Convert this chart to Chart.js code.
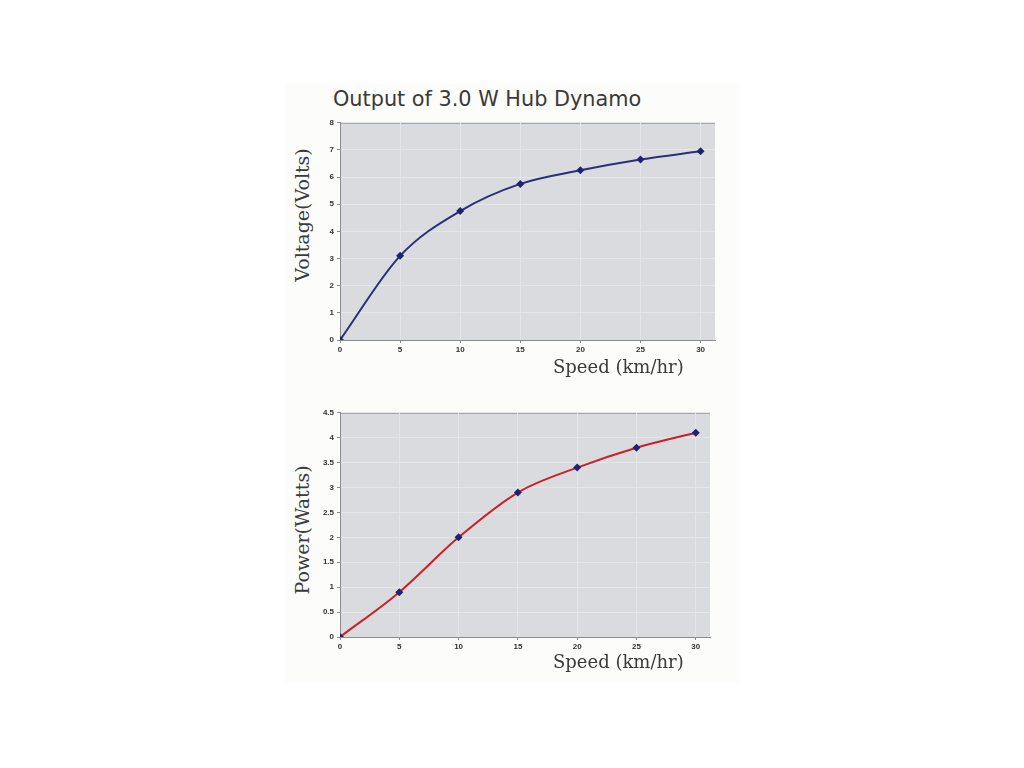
<!DOCTYPE html>
<html>
<head>
<meta charset="utf-8">
<script src="https://cdn.jsdelivr.net/npm/chart.js@4/dist/chart.umd.min.js"></script>
<style>
  body { margin: 0; background: #fff; width: 1024px; height: 768px; position: relative; overflow: hidden; }
  .panel { position: absolute; left: 285px; top: 84px; width: 455px; height: 598px; background: #fcfcfb; }
  .title { position: absolute; left: 333px; top: 87px; font: 20.8px "DejaVu Sans", sans-serif; color: #3a3a3a; }
  .xtitle { position: absolute; font: 18px "DejaVu Serif", serif; color: #3a3a3a; }
  .ytitle { position: absolute; font: 19px "DejaVu Serif", serif; color: #3a3a3a; white-space: nowrap;
            transform: translate(-50%, -50%) rotate(-90deg); }
  canvas { position: absolute; }
</style>
</head>
<body>
<div class="panel"></div>
<div class="title">Output of 3.0 W Hub Dynamo</div>
<div class="ytitle" style="left:302px; top:215px;">Voltage(Volts)</div>
<canvas id="voltChart" style="left:285px; top:115px; width:435px; height:245px;" width="435" height="245"></canvas>
<div class="xtitle" style="left:553px; top:356px;">Speed (km/hr)</div>
<div class="ytitle" style="left:302px; top:530px;">Power(Watts)</div>
<canvas id="powerChart" style="left:285px; top:405px; width:430px; height:252px;" width="430" height="252"></canvas>
<div class="xtitle" style="left:553px; top:651px;">Speed (km/hr)</div>
<script>
// Dados
const speeds = [0, 5, 10, 15, 20, 25, 30]
const voltage = [0, 3.1, 4.75, 5.75, 6.25, 6.65, 6.95]
const power = [0, 0.9, 2.0, 2.9, 3.4, 3.8, 4.1]

const speedTicks = [0, 5, 10, 15, 20, 25, 30]
const voltTicks = [0, 1, 2, 3, 4, 5, 6, 7, 8]
const powerTicks = [0, 0.5, 1, 1.5, 2, 2.5, 3, 3.5, 4, 4.5]

// Fundo cinza da área do gráfico
const plotBg = {
  id: "plotBg",
  beforeDraw(chart) {
    const { ctx, chartArea: a } = chart
    ctx.save()
    ctx.fillStyle = "#d9dbde"
    ctx.fillRect(a.left, a.top, a.right - a.left, a.bottom - a.top)
    ctx.strokeStyle = "#9a9c9f"
    ctx.lineWidth = 1
    ctx.beginPath()
    ctx.moveTo(a.left, a.top + 0.5)
    ctx.lineTo(a.right, a.top + 0.5)
    ctx.stroke()
    ctx.restore()
  },
}

const tickFont = { family: "Liberation Sans", size: 8, weight: "bold" }

function createChart(id, values, yTicks, yMax, lineColor, padTop) {
  const ctx = document.getElementById(id).getContext("2d")
  return new Chart(ctx, {
    type: "line",
    data: {
      datasets: [
        {
          data: speeds.map((s, i) => ({ x: s, y: values[i] })),
          borderColor: lineColor,
          borderWidth: 2,
          cubicInterpolationMode: "monotone",
          pointStyle: "rectRot",
          pointRadius: 4,
          pointBackgroundColor: "#1c2470",
          pointBorderColor: "#1c2470",
          pointBorderWidth: 0,
        },
      ],
    },
    options: {
      responsive: false,
      animation: false,
      layout: { padding: { top: padTop, right: 5, left: 0, bottom: 0 } },
      plugins: { legend: { display: false }, tooltip: { enabled: false } },
      scales: {
        x: {
          type: "linear",
          min: 0,
          max: 31.2,
          afterBuildTicks: (axis) => { axis.ticks = speedTicks.map((v) => ({ value: v })) },
          afterFit: (axis) => { axis.height = 20 },
          grid: { color: "#e4e6e8", tickColor: "#8a8c8f", tickLength: 3 },
          border: { color: "#8a8c8f" },
          ticks: { color: "#333", font: tickFont, padding: 2, maxRotation: 0, callback: (v) => String(v) },
        },
        y: {
          min: 0,
          max: yMax,
          afterBuildTicks: (axis) => { axis.ticks = yTicks.map((v) => ({ value: v })) },
          afterFit: (axis) => { axis.width = 55 },
          grid: { color: "#e4e6e8", tickColor: "#8a8c8f", tickLength: 3 },
          border: { color: "#8a8c8f" },
          ticks: { color: "#333", font: tickFont, padding: 3, callback: (v) => String(v) },
        },
      },
    },
    plugins: [plotBg],
  })
}

createChart("voltChart", voltage, voltTicks, 8, "#2b2f78", 5)
createChart("powerChart", power, powerTicks, 4.5, "#cc1f28", 7)
</script>
</body>
</html>
